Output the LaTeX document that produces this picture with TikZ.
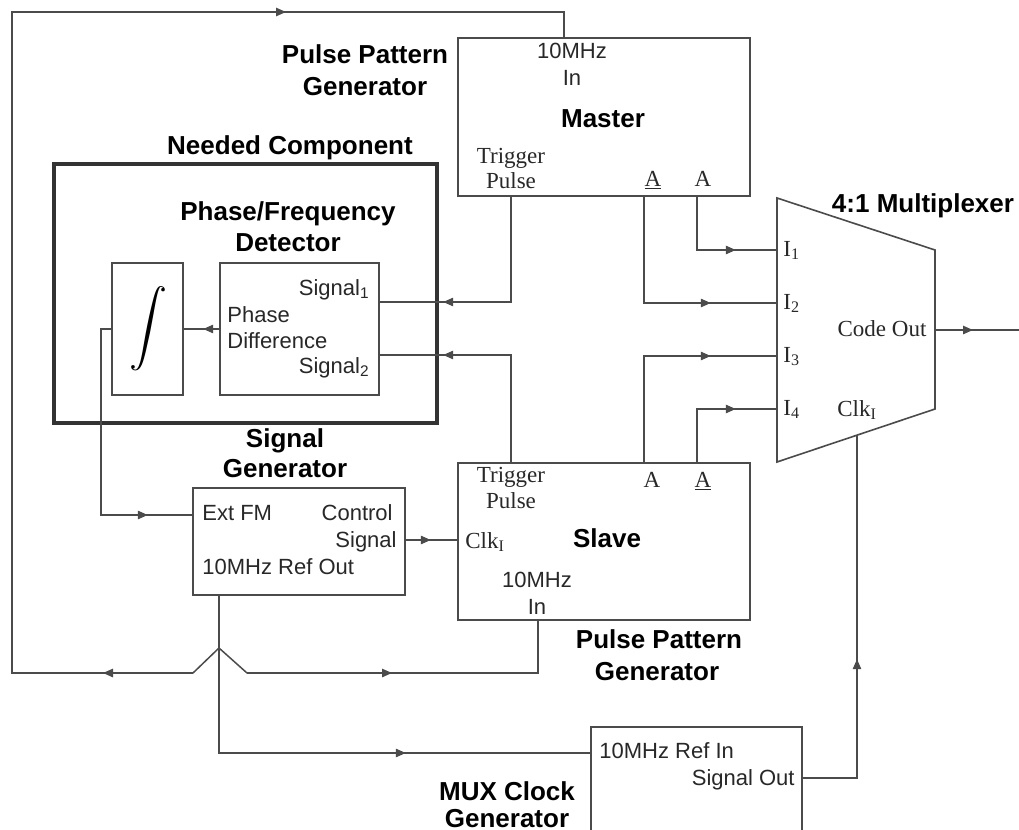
\documentclass[tikz,border=0pt]{standalone}
\usepackage{fontspec}
\usepackage{graphicx}
\setmainfont{Liberation Serif}
\newfontfamily\arial{Liberation Sans}
\usetikzlibrary{fit,arrows.meta,decorations.markings}
\definecolor{ln}{RGB}{75,75,75}
\definecolor{tx}{RGB}{40,40,40}
\tikzset{
  box/.style={draw=ln, line width=0.8pt, inner sep=0pt},
  wire/.style={draw=ln, line width=0.75pt},
  arrowat/.style={postaction={decorate,decoration={markings,mark=at position #1 with {\arrow{Triangle[length=5pt,width=4.2pt]}}}}},
  lbl/.style={font=\arial\bfseries\fontsize{13}{13}\selectfont, text=black, inner sep=0pt, anchor=base},
  sans/.style={font=\arial\fontsize{11}{11}\selectfont, text=tx, inner sep=0pt, anchor=base},
  serif/.style={font=\fontsize{11.5}{11.5}\selectfont, text=tx, inner sep=0pt, anchor=base},
}
\begin{document}
\begin{tikzpicture}[x=0.5pt,y=-0.5pt]
\clip (0,0) rectangle (1019,830);
\fill[white] (0,0) rectangle (1019,830);

% boxes
\node[box, fit={(458,38)(750,196)}] (master) {};
\node[box, fit={(458,463)(750,620)}] (slave) {};
\node[box, fit={(193,488)(405,595)}] (sg) {};
\node[box, line width=1.6pt, draw=black!80, fit={(54,164)(437,423)}] (need) {};
\node[box, fit={(112,263)(183,395)}] (integ) {};
\node[box, fit={(220,263)(379,395)}] (pfd) {};
\node[box, fit={(591,727)(802,870)}] (mclk) {};

% multiplexer
\draw[box] (777,198) coordinate (mTL) -- (935,250) coordinate (mTR) -- (935,409) coordinate (mBR) -- (777,462) coordinate (mBL) -- cycle;
\coordinate (I1) at (777,250);
\coordinate (I2) at (777,303);
\coordinate (I3) at (777,356);
\coordinate (I4) at (777,409);
\coordinate (mout) at (935,330);
\coordinate (mclkin) at (857,435);
\coordinate (codeend) at (1019,330);

\coordinate (hatL) at (193,673);
\coordinate (hatA) at (219,648);
\coordinate (hatR) at (247,673);

% connectors
\draw[wire, arrowat=86.5pt] (511,0 |- master.south) -- (511,302) -- (pfd.east |- 0,302);
\draw[wire, arrowat=87.5pt] (511,0 |- slave.north) -- (511,355) -- (pfd.east |- 0,355);
\draw[wire, arrowat=86.5pt] (644,0 |- master.south) -- (644,303) -- (I2);
\draw[wire, arrowat=46pt] (697,0 |- master.south) -- (697,250) -- (I1);
\draw[wire, arrowat=86.5pt] (644,0 |- slave.north) -- (644,356) -- (I3);
\draw[wire, arrowat=46pt] (697,0 |- slave.north) -- (697,409) -- (I4);
\draw[wire, arrowat=19pt] (mout) -- (codeend);
\draw[wire, arrowat=8pt] (pfd.west |- 0,329) -- (integ.east |- 0,329);
\draw[wire, arrowat=121.5pt] (integ.west |- 0,329) -- (101,329) -- (101,515) -- (sg.west |- 0,515);
\draw[wire, arrowat=12.5pt] (sg.east |- 0,540) -- (slave.west |- 0,540);
\draw[wire, arrowat=172pt] (219,0 |- sg.south) -- (219,753) -- (mclk.west |- 0,753);
\draw[wire] (hatL) -- (hatA) -- (hatR);
\draw[wire, arrowat=72.5pt] (hatR) -- (538,673) -- (538,0 |- slave.south);
\draw[wire, arrowat=45pt, arrowat=558pt] (hatL) -- (12,673) -- (12,12) -- (564,12) -- (564,0 |- master.north);
\draw[wire, arrowat=86.5pt] (mclk.east |- 0,778) -- (857,778) -- (mclkin);

% top pulse pattern generator (master)
\node[lbl] (pptop1) at (365,63) {Pulse Pattern};
\node[lbl] (pptop2) at (365,96) {Generator};
\node[sans] (m10) at (572,58) {10MHz};
\node[sans] (min) at (572,85) {In};
\node[lbl] (mname) at (603,127) {Master};
\node[serif] (mtrig) at (511,163) {Trigger};
\node[serif] (mpulse) at (511,188) {Pulse};
\node[serif] (mAb) at (653,186) {\underline{A}};
\node[serif] (mA) at (703,186) {A};

% needed component
\node[lbl] (needl) at (290,154) {Needed Component};
\node[lbl] (pfdl1) at (288,220) {Phase/Frequency};
\node[lbl] (pfdl2) at (288,251) {Detector};
\node[sans, anchor=base east] (s1) at (370,295) {Signal\textsubscript{1}};
\node[sans, anchor=base west] (ph) at (227,322) {Phase};
\node[sans, anchor=base west] (df) at (227,348) {Difference};
\node[sans, anchor=base east] (s2) at (370,373) {Signal\textsubscript{2}};
\node[inner sep=0pt] (intsym) at (148,329) {\scalebox{1.9}{$\displaystyle\int$}};

% signal generator
\node[lbl] (sgl1) at (285,447) {Signal};
\node[lbl] (sgl2) at (285,477) {Generator};
\node[sans, anchor=base west] (extfm) at (202,520) {Ext FM};
\node[sans, anchor=base east] (ctl) at (393,520) {Control};
\node[sans, anchor=base east] (csig) at (397,547) {Signal};
\node[sans, anchor=base west] (refout) at (202,574) {10MHz Ref Out};

% slave
\node[serif] (strig) at (511,482) {Trigger};
\node[serif] (spulse) at (511,508) {Pulse};
\node[serif, anchor=base west] (sclk) at (465,548) {Clk\textsubscript{I}};
\node[lbl] (sname) at (607,547) {Slave};
\node[sans] (s10) at (537,587) {10MHz};
\node[sans] (sin) at (537,614) {In};
\node[serif] (sA) at (652,487) {A};
\node[serif] (sAb) at (703,487) {\underline{A}};
\node[lbl] (ppbot1) at (659,648) {Pulse Pattern};
\node[lbl] (ppbot2) at (657,680) {Generator};

% multiplexer labels
\node[lbl] (muxl) at (923,212) {4:1 Multiplexer};
\node[serif, anchor=base west] (i1l) at (783,256) {I\textsubscript{1}};
\node[serif, anchor=base west] (i2l) at (783,309) {I\textsubscript{2}};
\node[serif, anchor=base west] (i3l) at (783,362) {I\textsubscript{3}};
\node[serif, anchor=base west] (i4l) at (783,415) {I\textsubscript{4}};
\node[serif] (codeout) at (882,336) {Code Out};
\node[serif, anchor=base west] (mclkl) at (837,416) {Clk\textsubscript{I}};

% mux clock generator
\node[sans, anchor=base west] (refin) at (599,758) {10MHz Ref In};
\node[sans, anchor=base east] (sigout) at (795,785) {Signal Out};
\node[lbl] (mcg1) at (507,800) {MUX Clock};
\node[lbl] (mcg2) at (507,827) {Generator};
\end{tikzpicture}
\end{document}
